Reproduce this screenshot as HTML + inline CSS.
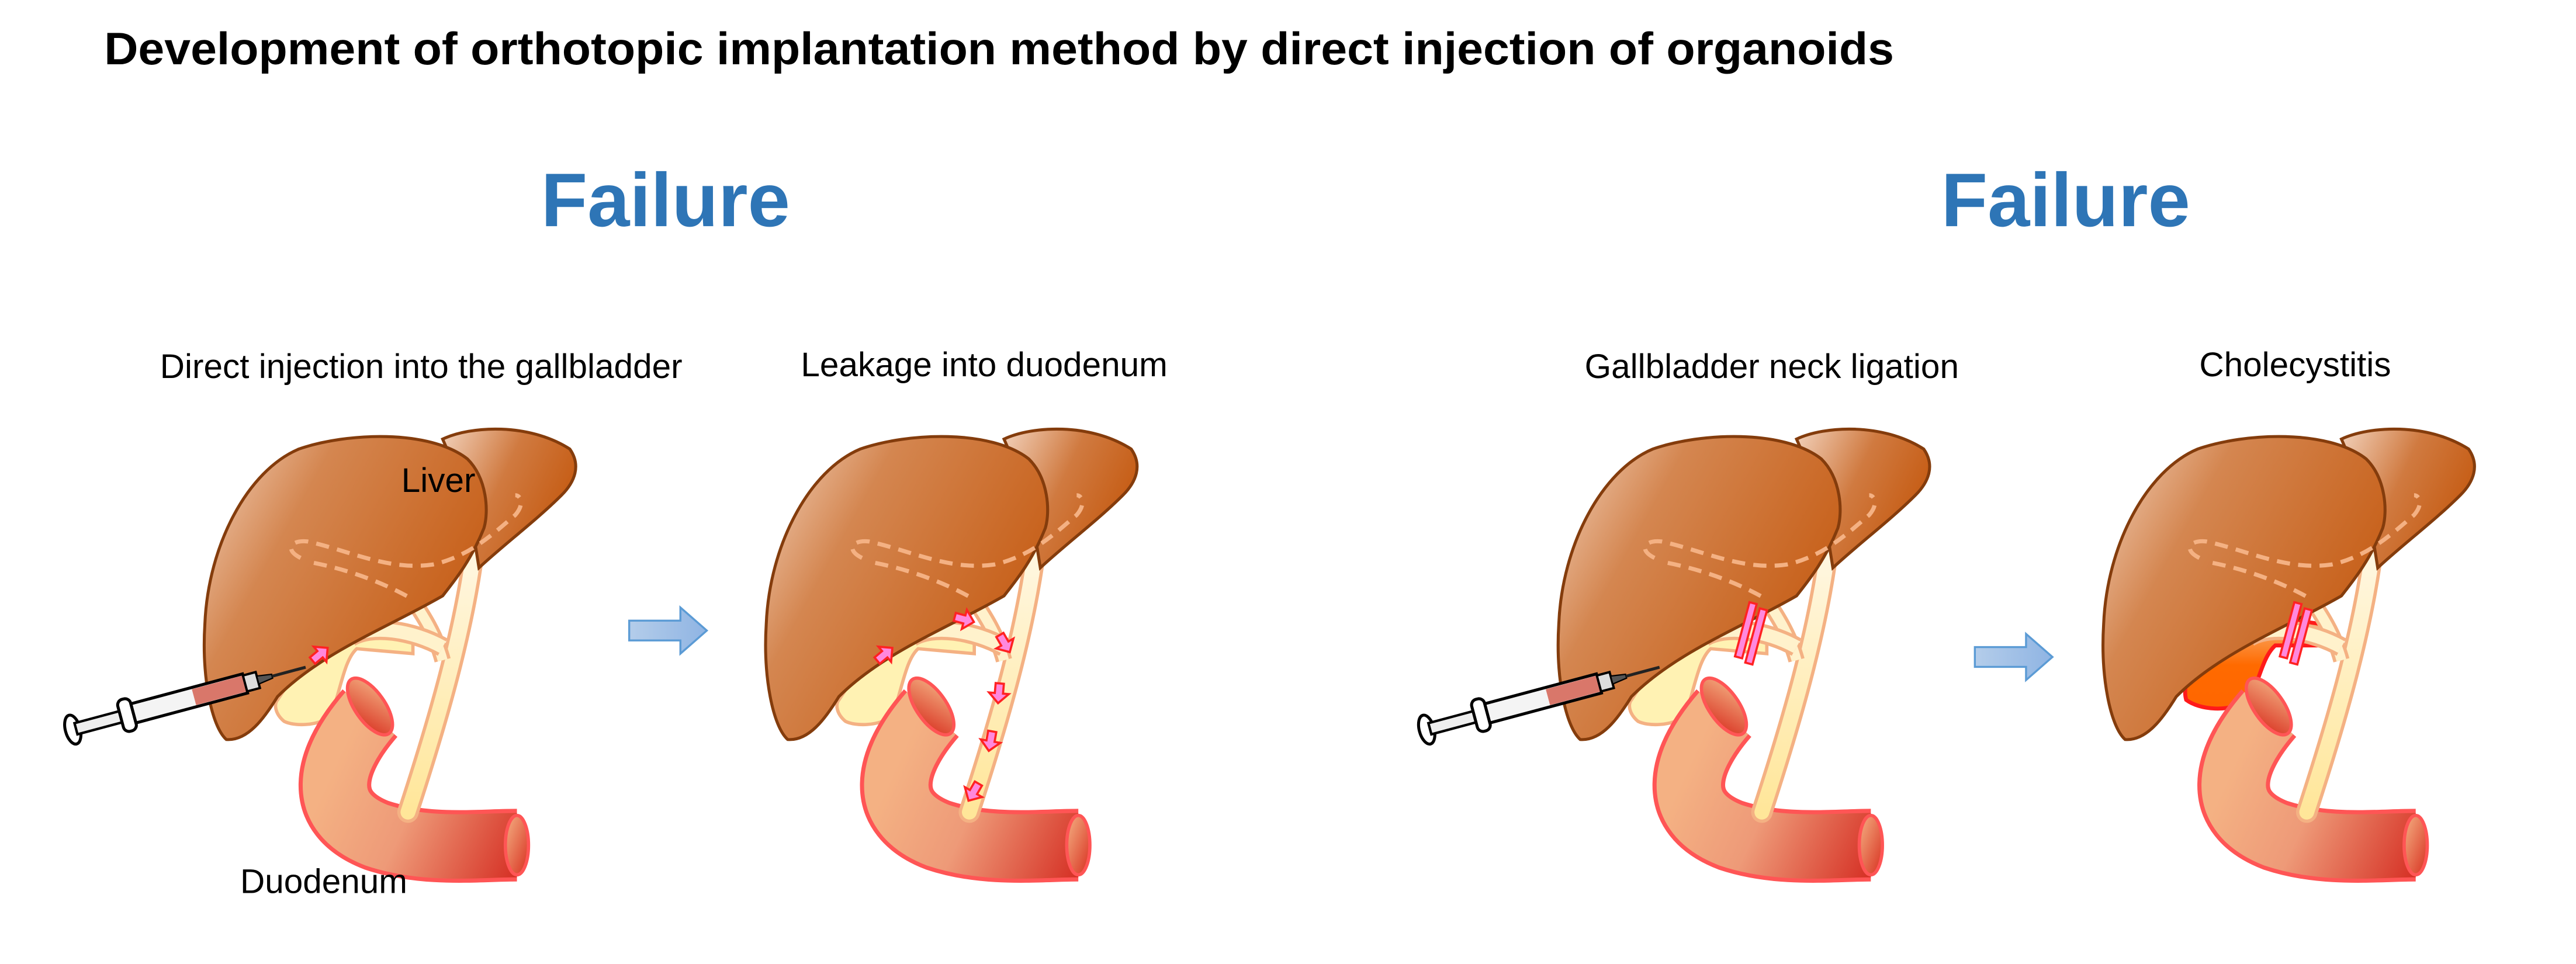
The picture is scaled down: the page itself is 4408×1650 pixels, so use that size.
<!DOCTYPE html>
<html><head><meta charset="utf-8"><style>
html,body{margin:0;padding:0;background:#fff;}
svg{display:block;}
text{font-family:"Liberation Sans",Arial,sans-serif;}
</style></head><body>
<svg width="4408" height="1650" viewBox="0 0 1560 584" xmlns="http://www.w3.org/2000/svg">
<defs>
<linearGradient id="lg" x1="0" y1="0" x2="1" y2="0.6">
<stop offset="0" stop-color="#f2d2bc"/><stop offset="0.35" stop-color="#d48650"/><stop offset="1" stop-color="#c55a11"/></linearGradient>
<linearGradient id="lg2" x1="0" y1="0" x2="1" y2="0.5">
<stop offset="0" stop-color="#f2d2bc"/><stop offset="0.5" stop-color="#d07a40"/><stop offset="1" stop-color="#c55a11"/></linearGradient>
<linearGradient id="dg" gradientUnits="userSpaceOnUse" x1="200" y1="470" x2="320" y2="525">
<stop offset="0" stop-color="#f4b183"/><stop offset="0.4" stop-color="#ee9a78"/><stop offset="1" stop-color="#d42a20"/></linearGradient>
<linearGradient id="eg" x1="0" y1="0" x2="1" y2="1">
<stop offset="0" stop-color="#f4b183"/><stop offset="1" stop-color="#d83020"/></linearGradient>
<linearGradient id="cg" x1="0" y1="0" x2="0" y2="1">
<stop offset="0" stop-color="#fff8e6"/><stop offset="1" stop-color="#ffe699"/></linearGradient>
<linearGradient id="og" x1="0" y1="0" x2="0" y2="1">
<stop offset="0" stop-color="#f8b070"/><stop offset="0.5" stop-color="#ff6a00"/><stop offset="1" stop-color="#ff6600"/></linearGradient>
<linearGradient id="ag" x1="0" y1="0" x2="1" y2="0">
<stop offset="0" stop-color="#b4cdea"/><stop offset="1" stop-color="#8fb4e3"/></linearGradient>

<g id="duo">
  <path d="M224,432 C198,462 192,492 228,506 C258,516 290,512 313,512" fill="none" stroke="#ff5555" stroke-width="44"/>
  <path d="M224,432 C198,462 192,492 228,506 C258,516 290,512 313,512" fill="none" stroke="url(#dg)" stroke-width="39"/>
  <ellipse cx="313" cy="512" rx="7" ry="18" fill="url(#eg)" stroke="#ff5555" stroke-width="2"/>
  <ellipse cx="224" cy="428" rx="20" ry="9" transform="rotate(55 224 428)" fill="url(#eg)" stroke="#ff5555" stroke-width="2"/>
</g>
<g id="base">
  <use href="#duo"/>
  <path d="M288,325 C282,380 264,440 247,492" fill="none" stroke="#f4b183" stroke-width="13" stroke-linecap="round"/>
  <path d="M288,325 C282,380 264,440 247,492" fill="none" stroke="url(#cg)" stroke-width="9" stroke-linecap="round"/>
  <path d="M246,358 C256,372 264,385 268,400" fill="none" stroke="#f4b183" stroke-width="10"/>
  <path d="M246,358 C256,372 264,385 268,400" fill="none" stroke="#fff2cc" stroke-width="6"/>
  <path d="M212,386 C225,378 250,382 268,392" fill="none" stroke="#f4b183" stroke-width="12"/>
  <path d="M212,386 C225,378 250,382 268,392" fill="none" stroke="#fff2cc" stroke-width="8"/>
  <path d="M268,266 C285,258 320,256 345,272 C352,282 348,292 340,300 C325,315 305,330 290,344 L283,300 Z" fill="url(#lg2)" stroke="#843c0c" stroke-width="1.8"/>
  <path d="M181,272 C210,262 260,260 283,278 C295,290 296,310 293,320 C285,340 275,352 268,361 C235,380 195,395 168,422 C160,435 150,449 137,448 C128,440 122,410 124,378 C126,330 150,285 181,272 Z" fill="url(#lg)" stroke="#843c0c" stroke-width="1.8"/>
  <path d="M182,338 C172,333 176,327 186,328 C210,333 235,346 262,342 C285,337 300,322 312,312 C318,305 315,300 312,300" fill="none" stroke="#f4b183" stroke-width="2.5" stroke-dasharray="8,5"/>
  <path d="M190,341 C210,345 230,352 248,362" fill="none" stroke="#f4b183" stroke-width="2.5" stroke-dasharray="8,5"/>
</g>

<g id="gb">
  <path d="M186,397 C196,390 206,384 216,383 L250,386 L250,396 L216,393 C208,400 206,420 200,434 C192,440 178,440 172,437 C166,432 166,426 168,424 Z" fill="#fff2b3" stroke="#f4b183" stroke-width="2"/>
</g>

<g id="syr">
  <g transform="translate(44,442) rotate(-15)">
    <ellipse cx="0" cy="0" rx="4.5" ry="9" fill="#fff" stroke="#000" stroke-width="1.8"/>
    <rect x="2" y="-3.5" width="38" height="7" fill="#eee" stroke="#000" stroke-width="1.5"/>
    <rect x="30" y="-10" width="8" height="20" rx="3.5" fill="#fff" stroke="#000" stroke-width="1.8"/>
    <rect x="38" y="-6" width="70" height="12" fill="#f4f4f4" stroke="#000" stroke-width="1.8"/>
    <rect x="76" y="-5" width="32" height="10" fill="#d9776a"/>
    <rect x="108" y="-5" width="8" height="10" fill="#ddd" stroke="#000" stroke-width="1.4"/>
    <path d="M116,-2.5 L125,-1.2 L125,1.2 L116,2.5 Z" fill="#555" stroke="#000" stroke-width="0.8"/>
    <line x1="125" y1="0" x2="146" y2="0" stroke="#222" stroke-width="1.8"/>
  </g>
</g>

<g id="pa"><polygon points="-5,-2.5 1,-2.5 1,-6 7,0 1,6 1,2.5 -5,2.5" fill="#ff88dd" stroke="#ff2222" stroke-width="1.3"/></g>

<g id="clip">
  <rect x="-3" y="-17" width="4.5" height="34" fill="#ff88dd" stroke="#ff2222" stroke-width="1.3"/>
  <rect x="4" y="-15" width="4.5" height="34" fill="#ff88dd" stroke="#ff2222" stroke-width="1.3"/>
</g>
</defs>

<text x="63" y="39" font-size="27.5" font-weight="bold" fill="#000" textLength="1084" lengthAdjust="spacingAndGlyphs">Development of orthotopic implantation method by direct injection of organoids</text>
<text x="403" y="137" font-size="46" font-weight="bold" fill="#2e75b6" text-anchor="middle">Failure</text>
<text x="1251" y="137" font-size="46" font-weight="bold" fill="#2e75b6" text-anchor="middle">Failure</text>

<text x="255" y="229" font-size="20.7" text-anchor="middle">Direct injection into the gallbladder</text>
<text x="596" y="228" font-size="20.7" text-anchor="middle">Leakage into duodenum</text>
<text x="1073" y="229" font-size="20.7" text-anchor="middle">Gallbladder neck ligation</text>
<text x="1390" y="228" font-size="20.7" text-anchor="middle">Cholecystitis</text>

<g>
  <use href="#gb"/>
  <use href="#base"/>
  <use href="#syr"/>
  <use href="#pa" transform="translate(193,397) rotate(-40)"/>
  <text x="243" y="298" font-size="20.7">Liver</text>
  <text x="196" y="541" font-size="20.7" text-anchor="middle">Duodenum</text>
</g>

<g transform="translate(340,0)">
  <use href="#gb"/>
  <use href="#base"/>
  <use href="#pa" transform="translate(195,397) rotate(-40)"/>
  <use href="#pa" transform="translate(243,375) rotate(15)"/>
  <use href="#pa" transform="translate(268,389) rotate(60)"/>
  <use href="#pa" transform="translate(265,419) rotate(95)"/>
  <use href="#pa" transform="translate(260,448) rotate(100)"/>
  <use href="#pa" transform="translate(250,479) rotate(120)"/>
</g>

<polygon points="381,376 412,376 412,368 428,382 412,396 412,388 381,388" fill="url(#ag)" stroke="#5b9bd5" stroke-width="1.2"/>

<g transform="translate(820,0)">
  <use href="#gb"/>
  <use href="#base"/>
  <use href="#syr"/>
  <use href="#clip" transform="translate(238,382) rotate(15)"/>
</g>

<polygon points="1196,392 1227,392 1227,384 1243,398 1227,412 1227,404 1196,404" fill="url(#ag)" stroke="#5b9bd5" stroke-width="1.2"/>

<g transform="translate(1150,0)">
  <path d="M205,384 C220,376 245,374 262,380 L262,391 L228,391 C220,398 218,414 212,424 C200,432 182,430 174,424 C170,410 185,394 205,384 Z" fill="url(#og)" stroke="#ff1a1a" stroke-width="2.4"/>
  <use href="#base"/>
  <use href="#clip" transform="translate(238,382) rotate(15)"/>
</g>
</svg>
</body></html>
